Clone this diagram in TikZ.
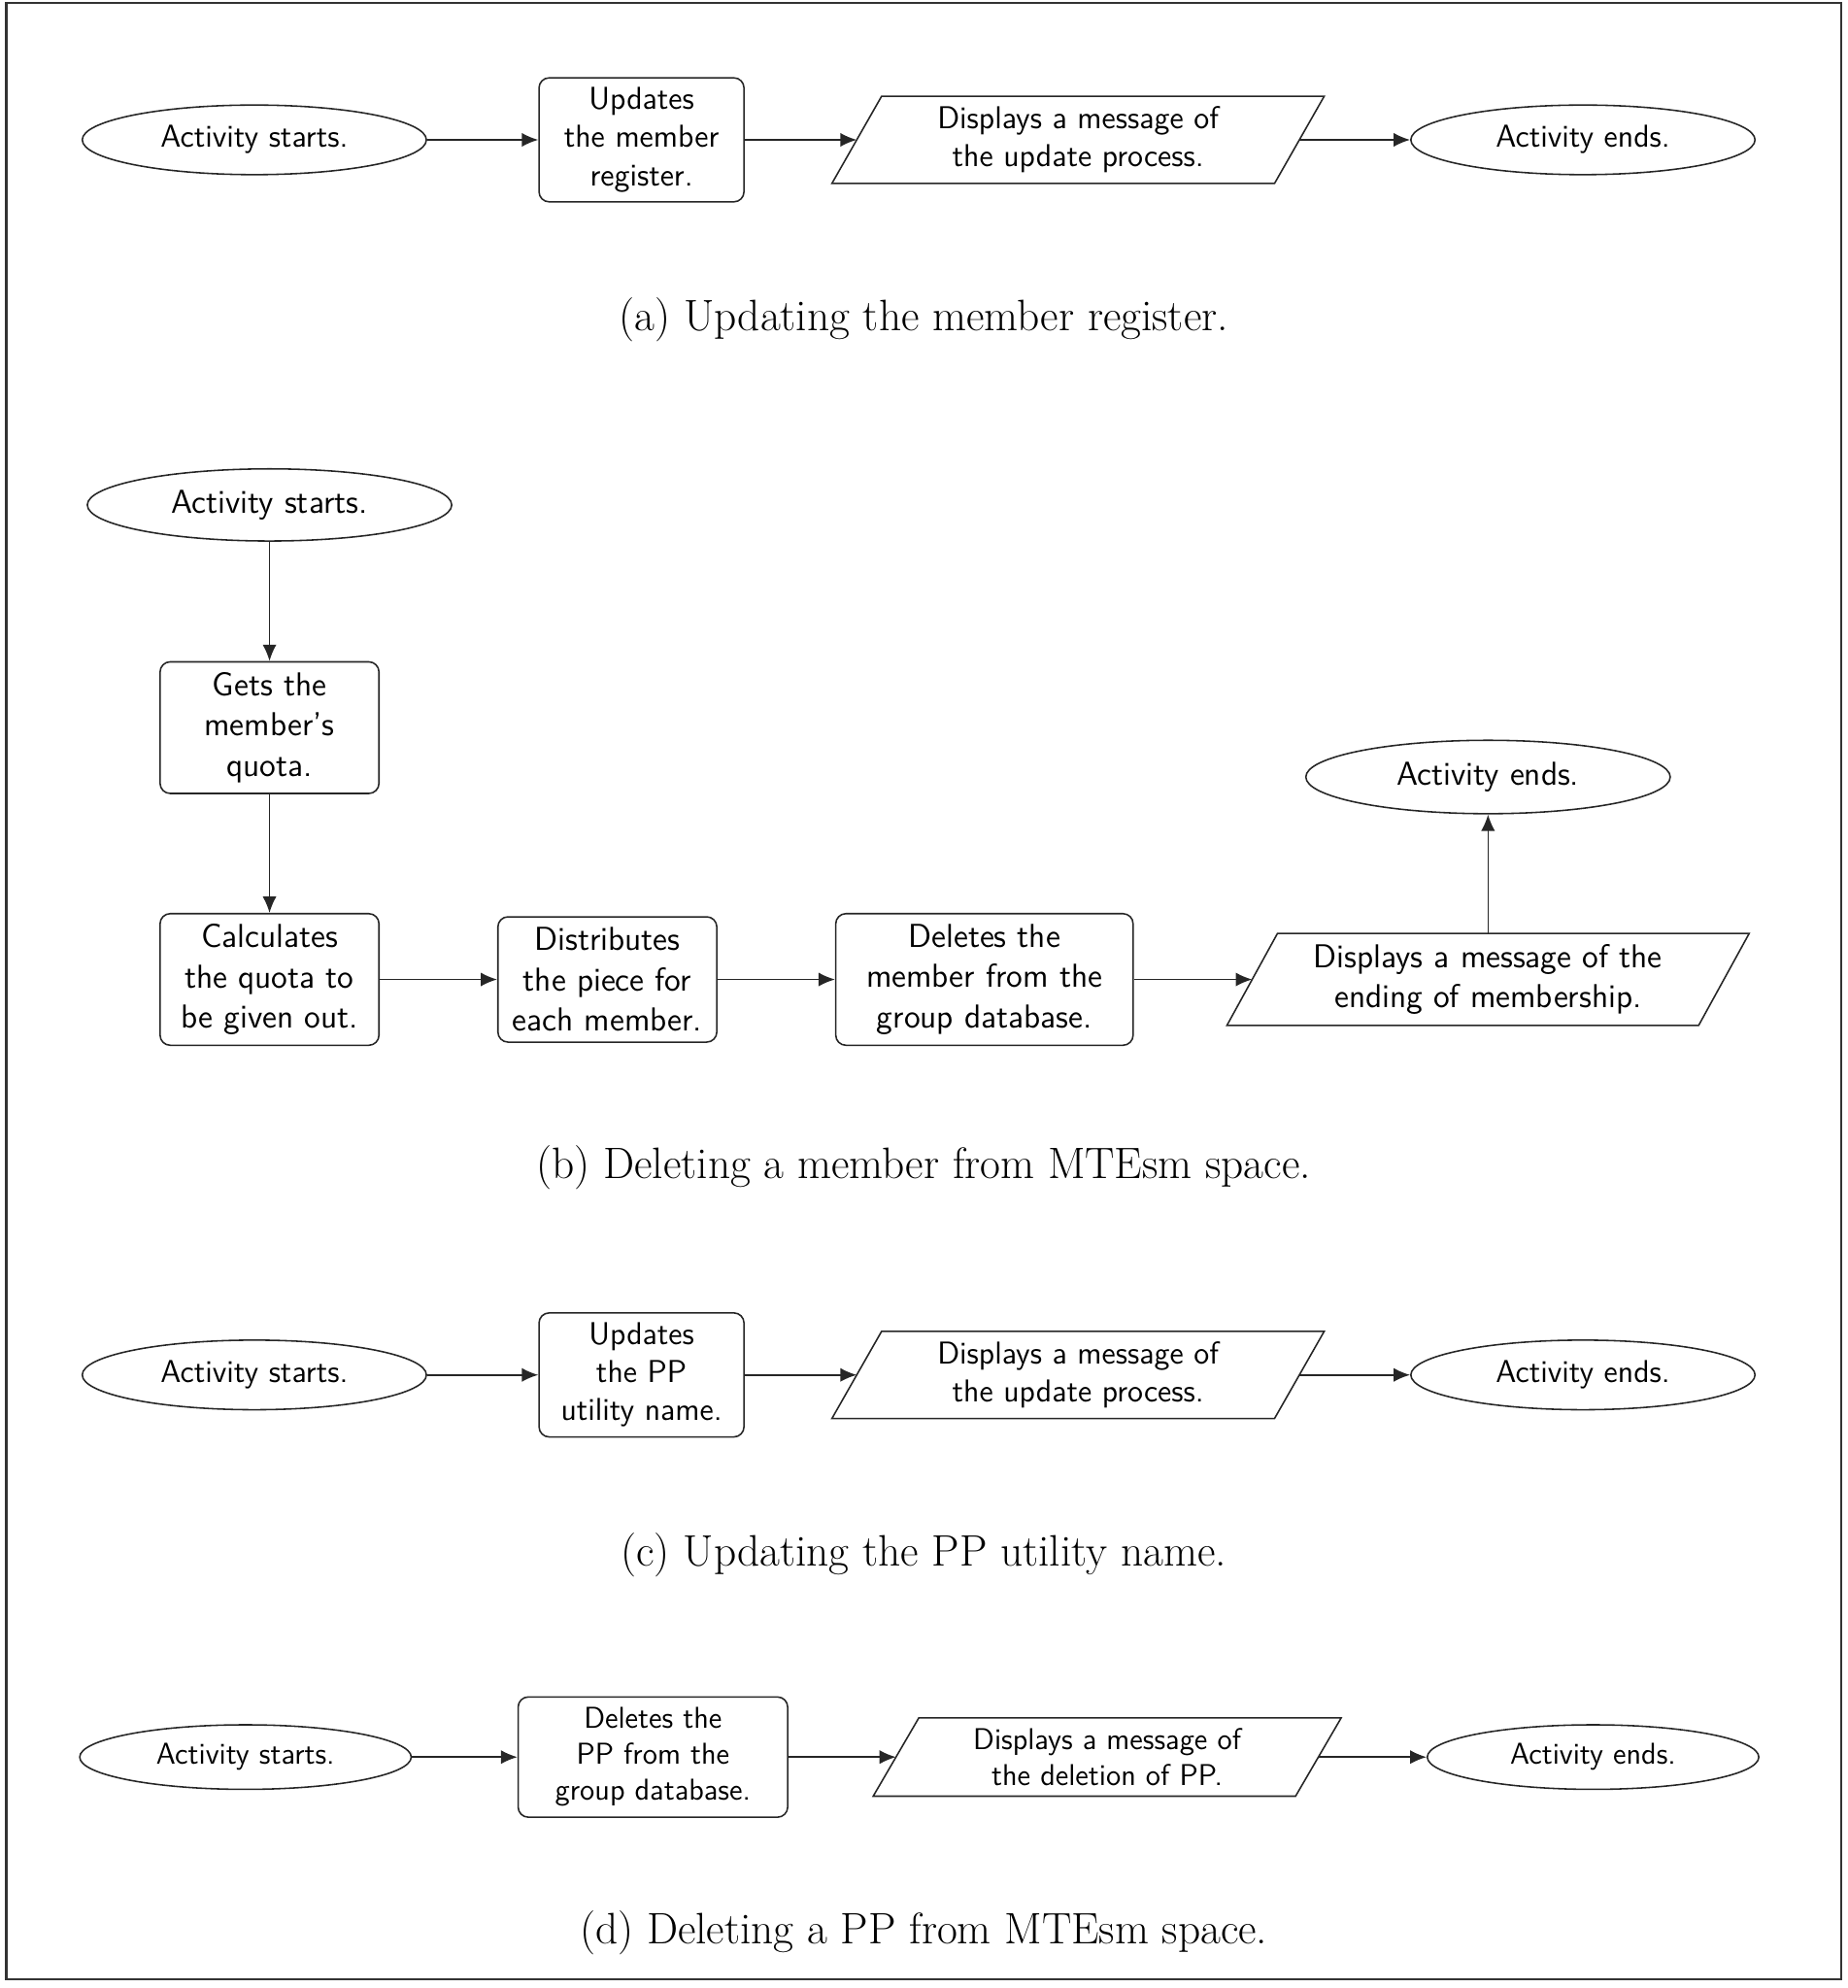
\documentclass[tikz,border=0pt]{standalone}
\usetikzlibrary{shapes.geometric,arrows.meta}
\newcommand\drawio[2]{\draw[shapeline] ([xshift=#2]#1.north west) -- ([xshift=#2]#1.north east) -- ([xshift=-#2]#1.south east) -- ([xshift=-#2]#1.south west) -- cycle;}
\begin{document}
\begin{tikzpicture}[x=0.5pt,y=-0.5pt,
  shapeline/.style={line width=0.6pt, draw=black!85},
  fa/.style={font=\sffamily\fontsize{12.5}{15}\selectfont},
  fb/.style={font=\sffamily\fontsize{13.1}{16}\selectfont},
  fd/.style={font=\sffamily\fontsize{11.9}{14.25}\selectfont},
  term/.style={ellipse, shapeline, inner sep=0pt},
  proc/.style={rectangle, rounded corners=4pt, shapeline, inner sep=0pt, align=center},
  io/.style={rectangle, inner sep=0pt, align=center},
  arr/.style={-{Latex[length=6.5pt,width=5.5pt]}, line width=0.6pt, draw=black!85},
  captext/.style={font=\rmfamily\fontsize{17.4}{20}\selectfont, inner sep=0pt},
]
\useasboundingbox (0,0) rectangle (1460,1571);
\draw[line width=0.8pt, draw=black!80] (5,2) rectangle (1455,1564);

% (a)
\node[term, fa, minimum width=136pt, minimum height=27.5pt] (a1) at (201,110.5) {Activity starts.};
\node[proc, fa, minimum width=81pt, minimum height=49pt] (a2) at (507,110.5) {Updates\\the member\\register.};
\node[io, fa, minimum width=174.5pt, minimum height=34pt] (a3) at (852,110.5) {Displays a message of\\the update process.};
\drawio{a3}{9.8pt}
\node[term, fa, minimum width=136pt, minimum height=27.5pt] (a4) at (1251,110.5) {Activity ends.};
\draw[arr] (a1) -- (a2);
\draw[arr] (a2) -- (a3);
\draw[arr] (a3) -- (a4);
\node[captext] (ca) at (730,253) {(a) Updating the member register.};

% (b)
\node[term, fb, minimum width=144pt, minimum height=28.5pt] (b1) at (213,399) {Activity starts.};
\node[proc, fb, minimum width=86.5pt, minimum height=52pt] (b2) at (213,575) {Gets the\\member's\\quota.};
\node[proc, fb, minimum width=86.5pt, minimum height=52pt] (b3) at (213,774) {Calculates\\the quota to\\be given out.};
\node[proc, fb, minimum width=86.5pt, minimum height=49.5pt] (b4) at (480,774) {Distributes\\the piece for\\each member.};
\node[proc, fb, minimum width=117.5pt, minimum height=52pt] (b5) at (778,774) {Deletes the\\member from the\\group database.};
\node[io, fb, minimum width=186pt, minimum height=36pt] (b6) at (1176,774) {Displays a message of the\\ending of membership.};
\drawio{b6}{10pt}
\node[term, fb, minimum width=144pt, minimum height=29pt] (b7) at (1176,614) {Activity ends.};
\draw[arr] (b1) -- (b2);
\draw[arr] (b2) -- (b3);
\draw[arr] (b3) -- (b4);
\draw[arr] (b4) -- (b5);
\draw[arr] (b5) -- (b6);
\draw[arr] (b6) -- (b7);
\node[captext] (cb) at (730,923) {(b) Deleting a member from MTEsm space.};

% (c)
\node[term, fa, minimum width=136pt, minimum height=27.5pt] (c1) at (201,1086.5) {Activity starts.};
\node[proc, fa, minimum width=81pt, minimum height=49pt] (c2) at (507,1086.5) {Updates\\the PP\\utility name.};
\node[io, fa, minimum width=174.5pt, minimum height=34pt] (c3) at (852,1086.5) {Displays a message of\\the update process.};
\drawio{c3}{9.8pt}
\node[term, fa, minimum width=136pt, minimum height=27.5pt] (c4) at (1251,1086.5) {Activity ends.};
\draw[arr] (c1) -- (c2);
\draw[arr] (c2) -- (c3);
\draw[arr] (c3) -- (c4);
\node[captext] (cc) at (730,1229) {(c) Updating the PP utility name.};

% (d)
\node[term, fd, minimum width=131pt, minimum height=25.5pt] (d1) at (194,1388.5) {Activity starts.};
\node[proc, fd, minimum width=106.5pt, minimum height=47.5pt] (d2) at (516,1388.5) {Deletes the\\PP from the\\group database.};
\node[io, fd, minimum width=166.5pt, minimum height=30.5pt] (d3) at (875,1388.5) {Displays a message of\\the deletion of PP.};
\drawio{d3}{9pt}
\node[term, fd, minimum width=131pt, minimum height=25.5pt] (d4) at (1259,1388.5) {Activity ends.};
\draw[arr] (d1) -- (d2);
\draw[arr] (d2) -- (d3);
\draw[arr] (d3) -- (d4);
\node[captext] (cd) at (730,1527) {(d) Deleting a PP from MTEsm space.};
\end{tikzpicture}
\end{document}
